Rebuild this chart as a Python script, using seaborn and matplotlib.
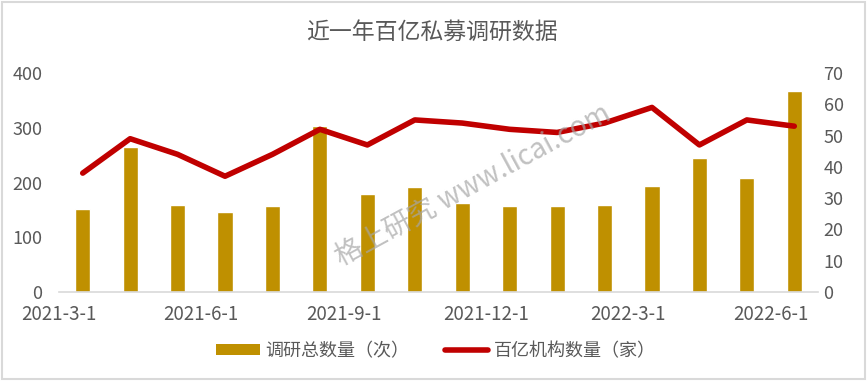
import matplotlib
matplotlib.use("Agg")
import matplotlib.pyplot as plt
import seaborn as sns
import pandas as pd
from matplotlib.patches import Rectangle
from matplotlib.lines import Line2D
from matplotlib.patches import Patch

months = ["2021-3", "2021-4", "2021-5", "2021-6", "2021-7", "2021-8", "2021-9", "2021-10",
          "2021-11", "2021-12", "2022-1", "2022-2", "2022-3", "2022-4", "2022-5", "2022-6"]
survey_counts = [151, 265, 159, 146, 157, 304, 179, 192, 163, 157, 157, 159, 193, 245, 208, 368]
institutions = [38, 49, 44, 37, 44, 52, 47, 55, 54, 52, 51, 54, 59, 47, 55, 53]
tick_labels = ["2021-3-1", "2021-6-1", "2021-9-1", "2021-12-1", "2022-3-1", "2022-6-1"]
title = "近一年百亿私募调研数据"
bar_label = "调研总数量（次）"
line_label = "百亿机构数量（家）"

sns.set_theme(style="white")
plt.rcParams['font.family'] = ['Noto Sans CJK SC', 'DejaVu Sans']

GOLD = "#BF9000"
RED = "#C00000"
GRAY = "#595959"

df = pd.DataFrame({"month": months, "count": survey_counts, "inst": institutions,
                   "idx": range(len(months))})

fig = plt.figure(figsize=(8.67, 3.81), dpi=100)
ax = fig.add_axes([59/867, 1-292/381, (818-59)/867, (292-73)/381])
sns.barplot(data=df, x="month", y="count", color=GOLD, width=0.32, ax=ax, saturation=1)
ax.set_xlim(-0.5, len(months) - 0.5)
ax.set_ylim(0, 400)
ax.set_yticks([0, 100, 200, 300, 400])
ax.set_xticks([-0.5 + 3*i for i in range(len(tick_labels))])
ax.set_xticklabels(tick_labels)
ax.set_xlabel("")
ax.set_ylabel("")
for s in ["top", "right", "left"]:
    ax.spines[s].set_visible(False)
ax.spines["bottom"].set_color("#D9D9D9")
ax.spines["bottom"].set_linewidth(1.2)
ax.tick_params(axis="x", colors="#D9D9D9", length=4, width=1.2, labelcolor=GRAY, labelsize=13.5, pad=5)
ax.tick_params(axis="y", length=0, labelcolor=GRAY, labelsize=13, pad=12)

ax2 = ax.twinx()
sns.lineplot(data=df, x="idx", y="inst", color=RED, linewidth=4, ax=ax2)
ax2.set_ylim(0, 70)
ax2.set_yticks(range(0, 71, 10))
ax2.set_ylabel("")
ax2.set_xlabel("")
ax2.set_xlim(-0.5, len(months) - 0.5)
for s in ["top", "right", "left", "bottom"]:
    ax2.spines[s].set_visible(False)
ax2.tick_params(axis="y", length=0, labelcolor=GRAY, labelsize=13, pad=4)

fig.text(432/867, 1-32/381, title, ha="center", va="center", fontsize=16.5, color=GRAY)

fig.text(473/867, 1-185/381, "格上研究 www.licai.com", ha="center", va="center",
         fontsize=20, color="#A6A6A6", alpha=0.7, rotation=28.5)

handles = [Patch(facecolor=GOLD, edgecolor="none"),
           Line2D([0], [0], color=RED, linewidth=4, solid_capstyle="round")]
fig.legend(handles, [bar_label, line_label], loc="center", bbox_to_anchor=(436/867, 1-351/381),
           ncol=2, frameon=False, fontsize=13, labelcolor=GRAY, handlelength=2.4,
           handleheight=0.5, columnspacing=2.0, handletextpad=0.3)

fig.add_artist(Rectangle((0.002, 0.004), 0.996, 0.992, transform=fig.transFigure,
                         fill=False, edgecolor="#D9D9D9", linewidth=1.5))

fig.savefig("out.png", dpi=100)
